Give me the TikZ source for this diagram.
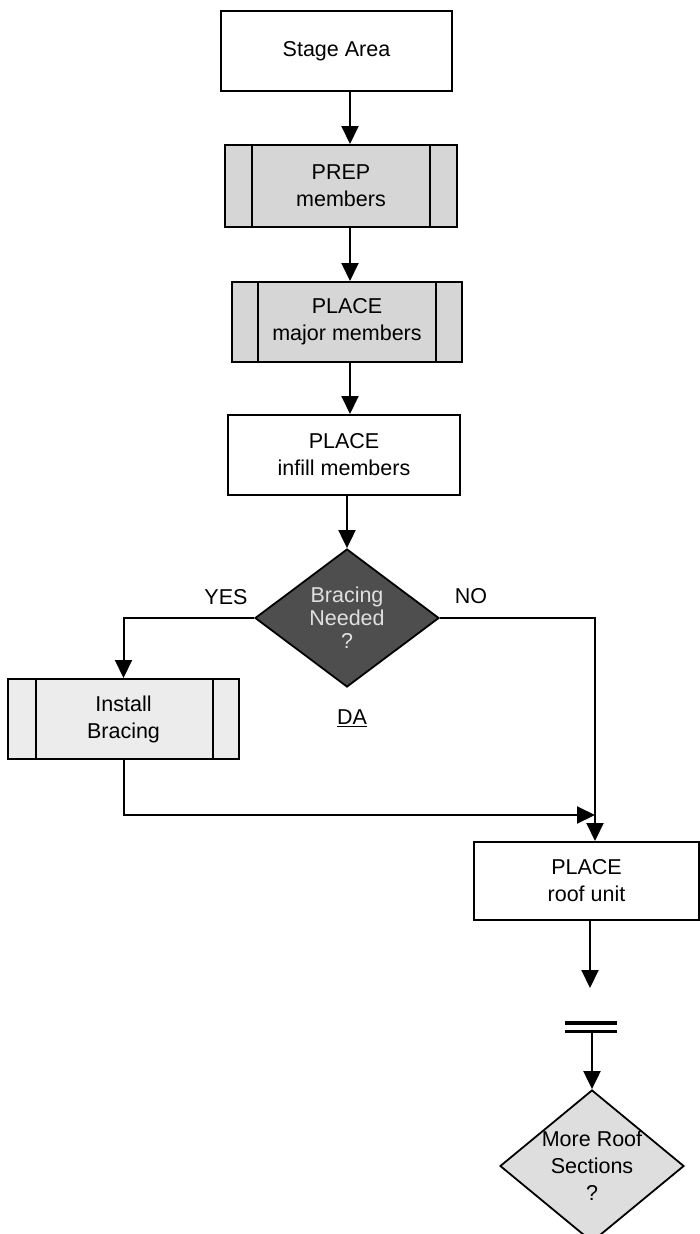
\documentclass[tikz,border=0pt]{standalone}
\usepackage{fontspec}
\setmainfont{Liberation Sans}
\usetikzlibrary{arrows.meta,shapes.geometric,calc}
\definecolor{subfill}{HTML}{D6D6D6}
\definecolor{instfill}{HTML}{ECECEC}
\definecolor{darkfill}{HTML}{4E4E4E}
\definecolor{roofdfill}{HTML}{DEDEDE}
\tikzset{
  x=1pt, y=-1pt,
  every node/.style={font=\fontsize{21.5}{27}\selectfont, align=center},
  box/.style={draw, line width=2pt, rectangle, inner sep=0pt},
  subbox/.style={box, fill=subfill},
  decision/.style={draw, line width=1.8pt, diamond, inner sep=0pt},
  arr/.style={line width=2pt, -{Triangle[width=17pt,length=18pt]}},
  innerline/.style={line width=2pt},
  lbl/.style={inner sep=0pt}
}
\begin{document}
\begin{tikzpicture}
\useasboundingbox (0,0) rectangle (700,1234);
\fill[white] (0,0) rectangle (700,1234);

\coordinate (spine) at (350,0);
\coordinate (merge) at (595,815);

% boxes
\node[box, minimum width=231pt, minimum height=80pt] (stage) at (336.5,51) {Stage Area};
\node[subbox, minimum width=232pt, minimum height=82pt] (prep) at (341,186) {PREP\\members};
\draw[innerline] ([xshift=28pt]prep.north west) -- ([xshift=28pt]prep.south west);
\draw[innerline] ([xshift=-28pt]prep.north east) -- ([xshift=-28pt]prep.south east);

\node[subbox, minimum width=230pt, minimum height=80pt] (major) at (347,322) {PLACE\\major members};
\draw[innerline] ([xshift=27pt]major.north west) -- ([xshift=27pt]major.south west);
\draw[innerline] ([xshift=-27pt]major.north east) -- ([xshift=-27pt]major.south east);

\node[box, minimum width=232pt, minimum height=80pt] (infill) at (344,455) {PLACE\\infill members};

\node[decision, fill=darkfill, minimum width=184pt, minimum height=138pt] (brace) at (347,618) {};
\node[lbl, text=black!12, font=\fontsize{21.5}{23}\selectfont] (bracetext) at (brace.center) {Bracing\\Needed\\?};

\node[box, fill=instfill, minimum width=231pt, minimum height=80pt] (inst) at (123.5,719) {Install\\Bracing};
\draw[innerline] ([xshift=29pt]inst.north west) -- ([xshift=29pt]inst.south west);
\draw[innerline] ([xshift=-27pt]inst.north east) -- ([xshift=-27pt]inst.south east);

\node[box, minimum width=225pt, minimum height=78pt] (roof) at (586.5,881) {PLACE\\roof unit};

\node[decision, fill=roofdfill, minimum width=184pt, minimum height=152pt] (more) at (592,1166) {};
\node[lbl] (moretext) at (more.center) {More Roof\\Sections\\?};

% labels
\node[lbl] (yes) at (226,597) {YES};
\node[lbl] (no) at (471,596) {NO};
\node[lbl] (da) at (352,718) {\underline{DA}};

% connectors
\draw[arr] (stage.south -| spine) -- (prep.north -| spine);
\draw[arr] (prep.south -| spine) -- (major.north -| spine);
\draw[arr] (major.south -| spine) -- (infill.north -| spine);
\draw[arr] (infill.south -| brace.north) -- (brace.north);
\draw[arr] (brace.west) -- (brace.west -| inst.north) -- (inst.north);
\draw[arr] (brace.east) -- (brace.east -| merge) -- (roof.north -| merge);
\draw[arr] (inst.south) -- (inst.south |- merge) -- (merge);

% end bar
\coordinate (roofend) at (590,988);
\draw[arr] (roof.south -| roofend) -- (roofend);
\node[minimum width=52pt, minimum height=8pt, inner sep=0pt] (bar) at (591,1027) {};
\draw[line width=3.6pt] (bar.north west) -- (bar.north east);
\draw[line width=3pt] (bar.south west) -- (bar.south east);
\draw[arr] (bar.south -| more.north) -- (more.north);
\end{tikzpicture}
\end{document}
